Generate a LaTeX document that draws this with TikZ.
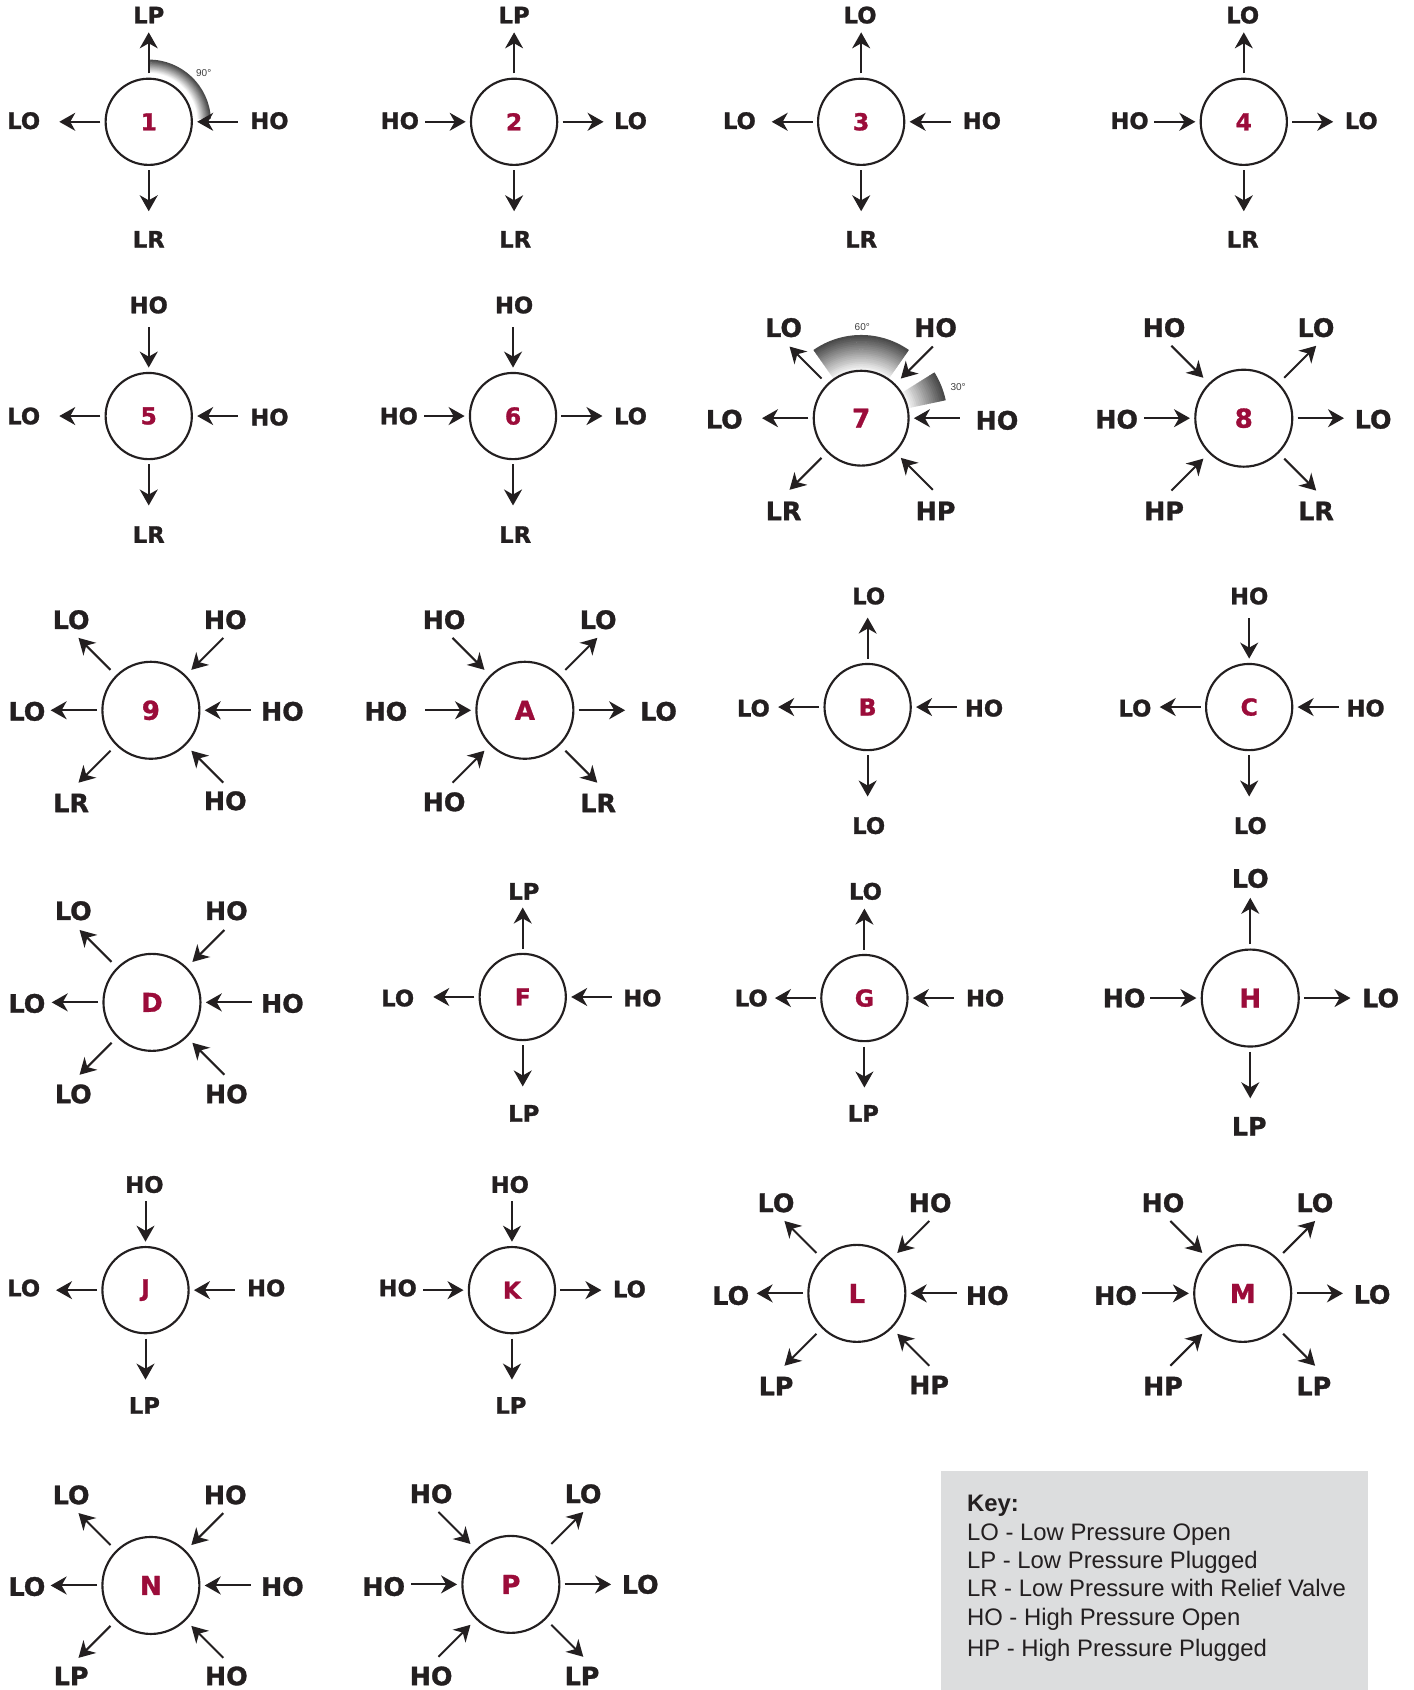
\documentclass[tikz,border=0pt]{standalone}
\usepackage{fontspec}
\setmainfont{Liberation Sans}
\newfontfamily\heavy[BoldFeatures={FakeBold=1.2}]{DejaVu Sans}
\usetikzlibrary{arrows.meta,calc}
\definecolor{ink}{HTML}{231F20}
\definecolor{crim}{RGB}{155,12,58}
\definecolor{keyfill}{HTML}{DCDDDE}
\def\un{0.80835pt}
% spoke: hub, id, angle, far distance, arrow style, label style, label pos, text
\newcommand\spk[8]{%
  \coordinate (#1#2) at ($(#1)+(#3:#4)$);
  \draw[#5] (#1) -- (#1#2);
  \node[#6] (#1#2t) at (#7) {#8};}
% shaded band: cx, cy, r1, r2, a1, a2
\newcommand\band[6]{%
  \foreach \i in {0,...,19}{%
    \pgfmathsetmacro\rr{#3+(\i+0.5)*(#4-#3)/20}%
    \pgfmathtruncatemacro\pc{3+\i*3.6}%
    \pgfmathsetmacro\lw{(#4-#3)/20*0.80835+0.35}%
    \draw[line width=\lw pt, draw=black!\pc!white] ($(#1,#2)+(#5:\rr)$) arc[start angle=#5, end angle=#6, radius=\rr];}}
\begin{document}
\begin{tikzpicture}[x=\un,y=\un,
  >={Stealth[length=12pt,width=13.5pt,inset=3.8pt]},
  hubS/.style={circle, draw=ink, line width=1.6pt, fill=white, inner sep=0pt, outer sep=0pt,
    minimum size=64.67pt, text=crim, font=\heavy\bfseries\fontsize{17.5}{17}\selectfont},
  hubL/.style={hubS, minimum size=72.75pt, font=\heavy\bfseries\fontsize{19.5}{19}\selectfont},
  hubM/.style={hubL, minimum size=71.13pt},
  lS/.style={inner sep=0pt, text=ink, font=\heavy\bfseries\fontsize{17}{17}\selectfont},
  lL/.style={lS, font=\heavy\bfseries\fontsize{19}{19}\selectfont},
  aout/.style={->, line width=1.5pt, draw=ink, shorten <=4pt},
  ain/.style={<-, line width=1.5pt, draw=ink, shorten <=4pt},
  dout/.style={aout, shorten <=6.5pt},
  din/.style={ain, shorten <=6.5pt},
  deg/.style={inner sep=0pt, text=black!75, font=\fontsize{7.5}{8}\selectfont},
  keyt/.style={inner sep=0pt, anchor=base west, text=ink, font=\fontsize{17.9}{20}\selectfont}]
\useasboundingbox (0,0) rectangle (1311,-1568);

% shaded angle bands
\band{138}{-113}{45.5}{57.5}{3}{90}
\band{799}{-388}{44}{77}{55}{125}
\band{799}{-388}{44}{80}{12}{32}
\node[deg] (d90) at (189,-68) {90°};
\node[deg] (d60) at (800,-303) {60°};
\node[deg] (d30) at (889,-359) {30°};

% ---------- row 1
\node[hubS] (h1) at (138,-113) {1};
\spk{h1}{n}{90}{83}{aout}{lS}{138,-14}{LP}
\spk{h1}{w}{180}{83}{aout}{lS}{22,-112}{LO}
\spk{h1}{e}{0}{83}{ain}{lS}{250,-112}{HO}
\spk{h1}{s}{270}{83}{aout}{lS}{138,-222}{LR}

\node[hubS] (h2) at (477,-113) {2};
\spk{h2}{n}{90}{83}{aout}{lS}{477,-14}{LP}
\spk{h2}{w}{180}{83}{ain}{lS}{371,-112}{HO}
\spk{h2}{e}{0}{83}{aout}{lS}{585,-112}{LO}
\spk{h2}{s}{270}{83}{aout}{lS}{478,-222}{LR}

\node[hubS] (h3) at (799,-113) {3};
\spk{h3}{n}{90}{83}{aout}{lS}{798,-14}{LO}
\spk{h3}{w}{180}{83}{aout}{lS}{686,-112}{LO}
\spk{h3}{e}{0}{83}{ain}{lS}{911,-112}{HO}
\spk{h3}{s}{270}{83}{aout}{lS}{799,-222}{LR}

\node[hubS] (h4) at (1154,-113) {4};
\spk{h4}{n}{90}{83}{aout}{lS}{1153,-14}{LO}
\spk{h4}{w}{180}{83}{ain}{lS}{1048,-112}{HO}
\spk{h4}{e}{0}{83}{aout}{lS}{1263,-112}{LO}
\spk{h4}{s}{270}{83}{aout}{lS}{1153,-222}{LR}

% ---------- row 2
\node[hubS] (h5) at (138,-386) {5};
\spk{h5}{n}{90}{83}{ain}{lS}{138,-283}{HO}
\spk{h5}{w}{180}{83}{aout}{lS}{22,-386}{LO}
\spk{h5}{e}{0}{83}{ain}{lS}{250,-387}{HO}
\spk{h5}{s}{270}{83}{aout}{lS}{138,-496}{LR}

\node[hubS] (h6) at (476,-386) {6};
\spk{h6}{n}{90}{83}{ain}{lS}{477,-283}{HO}
\spk{h6}{w}{180}{83}{ain}{lS}{370,-386}{HO}
\spk{h6}{e}{0}{83}{aout}{lS}{585,-386}{LO}
\spk{h6}{s}{270}{83}{aout}{lS}{478,-496}{LR}

\node[hubM] (h7) at (799,-388) {7};
\spk{h7}{nw}{135}{94}{dout}{lL}{727,-304}{LO}
\spk{h7}{ne}{45}{94}{din}{lL}{868,-304}{HO}
\spk{h7}{w}{180}{92}{aout}{lL}{672,-389}{LO}
\spk{h7}{e}{0}{92}{ain}{lL}{925,-390}{HO}
\spk{h7}{sw}{225}{94}{dout}{lL}{727,-474}{LR}
\spk{h7}{se}{315}{94}{din}{lL}{868,-474}{HP}

\node[hubL] (h8) at (1154,-388) {8};
\spk{h8}{nw}{135}{95}{din}{lL}{1080,-304}{HO}
\spk{h8}{ne}{45}{95}{dout}{lL}{1221,-304}{LO}
\spk{h8}{w}{180}{93}{ain}{lL}{1036,-389}{HO}
\spk{h8}{e}{0}{93}{aout}{lL}{1274,-389}{LO}
\spk{h8}{sw}{225}{95}{din}{lL}{1080,-474}{HP}
\spk{h8}{se}{315}{95}{dout}{lL}{1221,-474}{LR}

% ---------- row 3
\node[hubL] (h9) at (140,-659) {9};
\spk{h9}{nw}{135}{95}{dout}{lL}{66,-575}{LO}
\spk{h9}{ne}{45}{95}{din}{lL}{209,-575}{HO}
\spk{h9}{w}{180}{93}{aout}{lL}{25,-660}{LO}
\spk{h9}{e}{0}{93}{ain}{lL}{262,-660}{HO}
\spk{h9}{sw}{225}{95}{dout}{lL}{66,-745}{LR}
\spk{h9}{se}{315}{95}{din}{lL}{209,-743}{HO}

\node[hubL] (hA) at (487,-659) {A};
\spk{hA}{nw}{135}{95}{din}{lL}{412,-575}{HO}
\spk{hA}{ne}{45}{95}{dout}{lL}{555,-575}{LO}
\spk{hA}{w}{180}{93}{ain}{lL}{358,-660}{HO}
\spk{hA}{e}{0}{93}{aout}{lL}{611,-660}{LO}
\spk{hA}{sw}{225}{95}{din}{lL}{412,-744}{HO}
\spk{hA}{se}{315}{95}{dout}{lL}{555,-745}{LR}

\node[hubS] (hB) at (805,-656) {B};
\spk{hB}{n}{90}{83}{aout}{lS}{806,-553}{LO}
\spk{hB}{w}{180}{83}{aout}{lS}{699,-657}{LO}
\spk{hB}{e}{0}{83}{ain}{lS}{913,-657}{HO}
\spk{hB}{s}{270}{83}{aout}{lS}{806,-766}{LO}

\node[hubS] (hC) at (1159,-656) {C};
\spk{hC}{n}{90}{83}{ain}{lS}{1159,-553}{HO}
\spk{hC}{w}{180}{83}{aout}{lS}{1053,-657}{LO}
\spk{hC}{e}{0}{83}{ain}{lS}{1267,-657}{HO}
\spk{hC}{s}{270}{83}{aout}{lS}{1160,-766}{LO}

% ---------- row 4
\node[hubL] (hD) at (141,-930) {D};
\spk{hD}{nw}{135}{95}{dout}{lL}{68,-845}{LO}
\spk{hD}{ne}{45}{95}{din}{lL}{210,-845}{HO}
\spk{hD}{w}{180}{93}{aout}{lL}{25,-931}{LO}
\spk{hD}{e}{0}{93}{ain}{lL}{262,-931}{HO}
\spk{hD}{sw}{225}{95}{dout}{lL}{68,-1015}{LO}
\spk{hD}{se}{315}{95}{din}{lL}{210,-1015}{HO}

\node[hubS] (hF) at (485,-925) {F};
\spk{hF}{n}{90}{83}{aout}{lS}{486,-827}{LP}
\spk{hF}{w}{180}{83}{aout}{lS}{369,-926}{LO}
\spk{hF}{e}{0}{83}{ain}{lS}{596,-926}{HO}
\spk{hF}{s}{270}{83}{aout}{lS}{486,-1033}{LP}

\node[hubS] (hG) at (802,-926) {G};
\spk{hG}{n}{90}{83}{aout}{lS}{803,-827}{LO}
\spk{hG}{w}{180}{83}{aout}{lS}{697,-926}{LO}
\spk{hG}{e}{0}{83}{ain}{lS}{914,-926}{HO}
\spk{hG}{s}{270}{83}{aout}{lS}{801,-1033}{LP}

\node[hubL] (hH) at (1160,-926) {H};
\spk{hH}{n}{90}{93}{aout}{lL}{1160,-815}{LO}
\spk{hH}{w}{180}{93}{ain}{lL}{1043,-926}{HO}
\spk{hH}{e}{0}{93}{aout}{lL}{1281,-926}{LO}
\spk{hH}{s}{270}{93}{aout}{lL}{1159,-1045}{LP}

% ---------- row 5
\node[hubS] (hJ) at (135,-1197) {J};
\spk{hJ}{n}{90}{83}{ain}{lS}{134,-1099}{HO}
\spk{hJ}{w}{180}{83}{aout}{lS}{22,-1195}{LO}
\spk{hJ}{e}{0}{83}{ain}{lS}{247,-1195}{HO}
\spk{hJ}{s}{270}{83}{aout}{lS}{134,-1304}{LP}

\node[hubS] (hK) at (475,-1197) {K};
\spk{hK}{n}{90}{83}{ain}{lS}{473,-1099}{HO}
\spk{hK}{w}{180}{83}{ain}{lS}{369,-1195}{HO}
\spk{hK}{e}{0}{83}{aout}{lS}{584,-1196}{LO}
\spk{hK}{s}{270}{83}{aout}{lS}{474,-1304}{LP}

\node[hubL] (hL) at (795,-1200) {L};
\spk{hL}{nw}{135}{95}{dout}{lL}{720,-1116}{LO}
\spk{hL}{ne}{45}{95}{din}{lL}{863,-1116}{HO}
\spk{hL}{w}{180}{93}{aout}{lL}{678,-1202}{LO}
\spk{hL}{e}{0}{93}{ain}{lL}{916,-1202}{HO}
\spk{hL}{sw}{225}{95}{dout}{lL}{720,-1286}{LP}
\spk{hL}{se}{315}{95}{din}{lL}{862,-1285}{HP}

\node[hubL] (hM) at (1153,-1200) {M};
\spk{hM}{nw}{135}{95}{din}{lL}{1079,-1116}{HO}
\spk{hM}{ne}{45}{95}{dout}{lL}{1220,-1116}{LO}
\spk{hM}{w}{180}{93}{ain}{lL}{1035,-1202}{HO}
\spk{hM}{e}{0}{93}{aout}{lL}{1273,-1201}{LO}
\spk{hM}{sw}{225}{95}{din}{lL}{1079,-1286}{HP}
\spk{hM}{se}{315}{95}{dout}{lL}{1219,-1286}{LP}

% ---------- row 6
\node[hubL] (hN) at (140,-1471) {N};
\spk{hN}{nw}{135}{95}{dout}{lL}{66,-1387}{LO}
\spk{hN}{ne}{45}{95}{din}{lL}{209,-1387}{HO}
\spk{hN}{w}{180}{93}{aout}{lL}{25,-1472}{LO}
\spk{hN}{e}{0}{93}{ain}{lL}{262,-1472}{HO}
\spk{hN}{sw}{225}{95}{dout}{lL}{66,-1555}{LP}
\spk{hN}{se}{315}{95}{din}{lL}{210,-1555}{HO}

\node[hubL] (hP) at (474,-1470) {P};
\spk{hP}{nw}{135}{95}{din}{lL}{400,-1386}{HO}
\spk{hP}{ne}{45}{95}{dout}{lL}{541,-1386}{LO}
\spk{hP}{w}{180}{93}{ain}{lL}{356,-1472}{HO}
\spk{hP}{e}{0}{93}{aout}{lL}{594,-1470}{LO}
\spk{hP}{sw}{225}{95}{din}{lL}{400,-1555}{HO}
\spk{hP}{se}{315}{95}{dout}{lL}{540,-1555}{LP}

% ---------- key
\fill[keyfill] (873,-1365) rectangle (1269,-1568);
\node[keyt] (k0) at (897,-1402) {\textbf{Key:}};
\node[keyt] (k1) at (897,-1429) {LO - Low Pressure Open};
\node[keyt] (k2) at (897,-1455) {LP - Low Pressure Plugged};
\node[keyt] (k3) at (897,-1481) {LR - Low Pressure with Relief Valve};
\node[keyt] (k4) at (897,-1508) {HO - High Pressure Open};
\node[keyt] (k5) at (897,-1537) {HP - High Pressure Plugged};
\end{tikzpicture}
\end{document}
